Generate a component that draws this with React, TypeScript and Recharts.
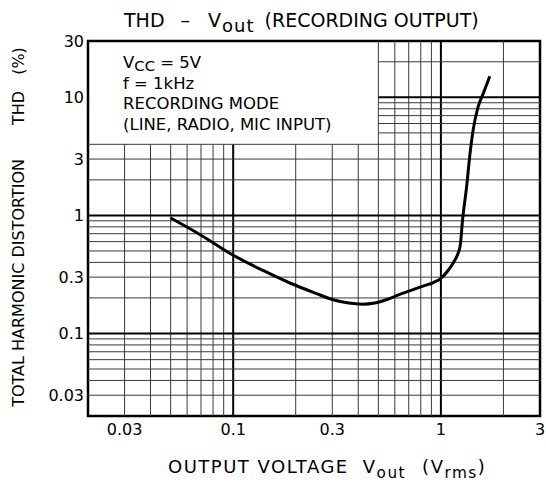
import React from "react";
import { LineChart, Line, XAxis, YAxis, ReferenceLine, ReferenceArea } from "recharts";

// THD vs output voltage
const vout = [0.05, 0.07, 0.1, 0.14, 0.19, 0.25, 0.3, 0.36, 0.42, 0.48, 0.55, 0.62, 0.7, 0.82, 0.92, 1.0, 1.08, 1.15, 1.2, 1.24, 1.27, 1.33, 1.38, 1.43, 1.51, 1.6, 1.72];
const thd = [0.95, 0.68, 0.46, 0.34, 0.265, 0.219, 0.194, 0.181, 0.177, 0.181, 0.194, 0.211, 0.228, 0.252, 0.27, 0.293, 0.34, 0.4, 0.46, 0.56, 0.9, 1.75, 3.3, 5.3, 8.3, 10.8, 15.1];

const xTicks = [0.03, 0.1, 0.3, 1, 3];
const yTicks = [0.03, 0.1, 0.3, 1, 3, 10, 30];
const xGrid = [0.03, 0.04, 0.05, 0.06, 0.07, 0.08, 0.09, 0.1, 0.2, 0.3, 0.4, 0.5, 0.6, 0.7, 0.8, 0.9, 1, 2];
const yGrid = [0.03, 0.04, 0.05, 0.06, 0.07, 0.08, 0.09, 0.1, 0.2, 0.3, 0.4, 0.5, 0.6, 0.7, 0.8, 0.9, 1, 2, 3, 4, 5, 6, 7, 8, 9, 10, 20];
const decades = [0.1, 1, 10];

// the condition box hides the grid in its corner
const boxX = 0.5;
const boxY = 4;
const xMin = 0.02;
const xMax = 3;
const yMin = 0.02;
const yMax = 30;

const data = vout.map((v, i) => ({ vout: v, thd: thd[i] }));

const font = "'DejaVu Sans', sans-serif";

function Sub({ children, size = "0.85em" }: { children: React.ReactNode; size?: string }) {
  return <span style={{ fontSize: size, position: "relative", top: "0.3em" }}>{children}</span>;
}

export default function App() {
  return (
    <div style={{ position: "absolute", left: 0, top: 0, width: 546, height: 483, background: "#fff", fontFamily: font, color: "#000" }}>
      <LineChart width={546} height={483} data={data} margin={{ top: 41, right: 6, bottom: 0, left: 0 }}>
        <XAxis
          dataKey="vout"
          type="number"
          scale="log"
          domain={[xMin, xMax]}
          allowDataOverflow
          ticks={xTicks}
          tickFormatter={(v: number) => String(v)}
          axisLine={false}
          tickLine={false}
          tickSize={0}
          tickMargin={8}
          height={67}
          interval={0}
          tick={{ fill: "#000", fontSize: 16, fontFamily: font }}
        />
        <YAxis
          type="number"
          scale="log"
          domain={[yMin, yMax]}
          allowDataOverflow
          ticks={yTicks}
          tickFormatter={(v: number) => String(v)}
          axisLine={false}
          tickLine={false}
          tickSize={0}
          tickMargin={4}
          width={88}
          interval={0}
          tick={{ fill: "#000", fontSize: 16, fontFamily: font }}
        />
        {xGrid.map((x) => (
          <ReferenceLine
            key={"vx" + x}
            segment={[{ x, y: yMin }, { x, y: x < boxX ? boxY : yMax }]}
            stroke={decades.includes(x) ? "#000" : "#3a3a3a"}
            strokeWidth={decades.includes(x) ? 2 : 1}
            ifOverflow="visible"
          />
        ))}
        {yGrid.map((y) => (
          <ReferenceLine
            key={"hy" + y}
            segment={[{ x: y > boxY ? boxX : xMin, y }, { x: xMax, y }]}
            stroke={decades.includes(y) ? "#000" : "#3a3a3a"}
            strokeWidth={decades.includes(y) ? 2 : 1}
            ifOverflow="visible"
          />
        ))}
        <ReferenceArea x1={xMin} x2={xMax} y1={yMin} y2={yMax} fill="none" stroke="#000" strokeWidth={2.5} ifOverflow="visible" />
        <Line dataKey="thd" type="monotone" stroke="#000" strokeWidth={3} dot={false} isAnimationActive={false} />
      </LineChart>

      <div style={{ position: "absolute", left: 124, top: 9, fontSize: 19, whiteSpace: "nowrap" }}>
        THD
        <span style={{ marginLeft: 16, fontSize: 19 }}>–</span>
        <span style={{ marginLeft: 18 }}>
          V
          <span style={{ marginLeft: 1, letterSpacing: 1 }}>
            <Sub size="0.95em">out</Sub>
          </span>
        </span>
        <span style={{ marginLeft: 10 }}>(RECORDING OUTPUT)</span>
      </div>

      <div style={{ position: "absolute", left: 123, top: 53, fontSize: 16.5, lineHeight: "20.5px", whiteSpace: "nowrap" }}>
        <div>
          V<span style={{ fontSize: "0.9em", position: "relative", top: "0.22em" }}>CC</span> = 5V
        </div>
        <div>f = 1kHz</div>
        <div>RECORDING MODE</div>
        <div>(LINE, RADIO, MIC INPUT)</div>
      </div>

      <div style={{ position: "absolute", left: 168, top: 456, fontSize: 18, letterSpacing: 1.5, whiteSpace: "nowrap" }}>
        OUTPUT VOLTAGE
        <span style={{ marginLeft: 14 }}>V<Sub>out</Sub></span>
        <span style={{ marginLeft: 16 }}>(V<Sub>rms</Sub>)</span>
      </div>

      <div
        style={{
          position: "absolute",
          left: 18,
          top: 227,
          transform: "translate(-50%, -50%) rotate(-90deg)",
          fontSize: 16,
          whiteSpace: "nowrap",
        }}
      >
        TOTAL HARMONIC DISTORTION
        <span style={{ marginLeft: 34 }}>THD</span>
        <span style={{ marginLeft: 16 }}>(%)</span>
      </div>
    </div>
  );
}
